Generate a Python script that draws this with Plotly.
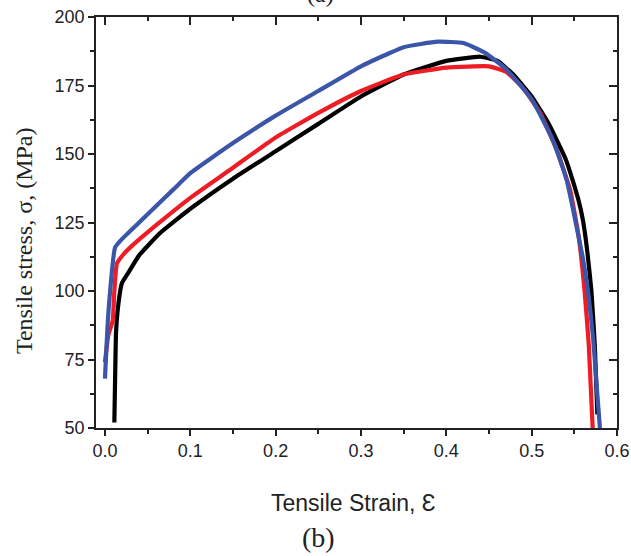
import plotly.graph_objects as go

# ---- data ----
black_strain = [0.011, 0.012, 0.013, 0.016, 0.020, 0.028, 0.040, 0.064, 0.10, 0.15, 0.20, 0.25, 0.30, 0.35, 0.40, 0.44, 0.46, 0.48, 0.50, 0.52, 0.54, 0.548, 0.555, 0.560, 0.565, 0.570, 0.574, 0.577]
black_stress = [52, 70, 85, 96, 103, 107, 113, 121, 130, 141, 151, 161, 171, 179, 184, 185.5, 184, 178.5, 171, 161, 148, 140.5, 133, 126, 115, 100, 80, 55]

red_strain = [0.0, 0.004, 0.009, 0.011, 0.014, 0.022, 0.03, 0.06, 0.10, 0.15, 0.20, 0.25, 0.30, 0.35, 0.40, 0.45, 0.47, 0.49, 0.51, 0.53, 0.545, 0.555, 0.562, 0.567, 0.5715]
red_stress = [74, 84, 89, 100, 110, 113.5, 116, 124, 134, 145, 156, 165, 173, 179, 181.5, 182, 180, 174, 165, 151, 137, 120, 100, 80, 50]

blue_strain = [0.0, 0.004, 0.012, 0.02, 0.04, 0.06, 0.08, 0.10, 0.15, 0.20, 0.25, 0.30, 0.35, 0.39, 0.42, 0.445, 0.47, 0.50, 0.525, 0.541, 0.551, 0.560, 0.566, 0.572, 0.577, 0.580]
blue_stress = [68, 92, 116, 119, 125, 131, 137, 143, 154, 164, 173, 182, 189, 191, 190.5, 187, 181, 170, 155, 140.5, 126, 112, 100, 83, 62, 50]

x_ticks = [0.0, 0.1, 0.2, 0.3, 0.4, 0.5, 0.6]
y_ticks = [50, 75, 100, 125, 150, 175, 200]

AXCOL = "#222222"
TICKFONT = dict(family="Arial, Liberation Sans, sans-serif", size=18, color="#222222")
LINE_W = 4.2

fig = go.Figure()
for xs, ys, col in [(black_strain, black_stress, "#000000"),
                    (red_strain, red_stress, "#ee1c24"),
                    (blue_strain, blue_stress, "#3b55a8")]:
    fig.add_trace(go.Scatter(x=xs, y=ys, mode="lines",
                             line=dict(color=col, width=LINE_W, shape="spline", smoothing=0.4),
                             showlegend=False))
# invisible trace on the mirror axes (top/right, inward ticks)
fig.add_trace(go.Scatter(x=[0.3], y=[125], xaxis="x2", yaxis="y2",
                         mode="markers", marker=dict(opacity=0, size=1), showlegend=False,
                         hoverinfo="skip"))

xr = [-0.0105, 0.6]
yr = [50, 200]

fig.update_layout(
    width=631, height=556,
    margin=dict(l=96, r=14, t=17, b=128, autoexpand=False),
    paper_bgcolor="white", plot_bgcolor="white",
    xaxis=dict(range=xr, tickvals=x_ticks, ticktext=[f"{v:.1f}" for v in x_ticks],
               ticks="outside", ticklen=6, tickwidth=1.5, tickcolor=AXCOL,
               minor=dict(dtick=0.05, tick0=0, ticks="outside", ticklen=4, tickwidth=1.5, tickcolor=AXCOL, showgrid=False),
               showline=True, mirror=True, linecolor=AXCOL, linewidth=1.5, showgrid=False, zeroline=False,
               tickfont=TICKFONT, ticklabeloverflow="allow"),
    yaxis=dict(range=yr, tickvals=y_ticks,
               ticks="outside", ticklen=6, tickwidth=1.5, tickcolor=AXCOL,
               minor=dict(dtick=12.5, tick0=0, ticks="outside", ticklen=4, tickwidth=1.5, tickcolor=AXCOL, showgrid=False),
               showline=True, mirror=True, linecolor=AXCOL, linewidth=1.5, showgrid=False, zeroline=False,
               tickfont=TICKFONT, ticklabeloverflow="allow"),
    xaxis2=dict(range=xr, overlaying="x", side="top", tickvals=x_ticks, showticklabels=False,
                ticks="inside", ticklen=8, tickwidth=1.5, tickcolor=AXCOL,
                minor=dict(dtick=0.05, tick0=0, ticks="inside", ticklen=4, tickwidth=1.5, tickcolor=AXCOL, showgrid=False),
                showline=False, showgrid=False, zeroline=False),
    yaxis2=dict(range=yr, overlaying="y", side="right", tickvals=y_ticks, showticklabels=False,
                ticks="inside", ticklen=8, tickwidth=1.5, tickcolor=AXCOL,
                minor=dict(dtick=12.5, tick0=0, ticks="inside", ticklen=4, tickwidth=1.5, tickcolor=AXCOL, showgrid=False),
                showline=False, showgrid=False, zeroline=False),
    annotations=[
        dict(text="Tensile stress, σ, (MPa)", xref="paper", yref="paper", x=-0.138, y=0.455,
             textangle=-90, showarrow=False, xanchor="center", yanchor="middle",
             font=dict(family="Times New Roman, Liberation Serif, serif", size=24, color="#222222")),
        dict(text="Tensile Strain, Ɛ", xref="paper", yref="paper", x=0.495, y=-0.182,
             showarrow=False, xanchor="center", yanchor="middle",
             font=dict(family="Arial, Liberation Sans, sans-serif", size=23, color="#222222")),
        dict(text="(b)", xref="paper", yref="paper", x=0.428, y=-0.2676,
             showarrow=False, xanchor="center", yanchor="middle",
             font=dict(family="Times New Roman, Liberation Serif, serif", size=28, color="#222222")),
        dict(text="(a)", xref="paper", yref="paper", x=0.43, y=1.02,
             showarrow=False, xanchor="center", yanchor="bottom",
             font=dict(family="Times New Roman, Liberation Serif, serif", size=24, color="#222222")),
    ],
)

fig.write_html("out.html", config={"displayModeBar": False},
               post_script="document.body.style.margin='0';document.body.style.overflow='hidden';")
